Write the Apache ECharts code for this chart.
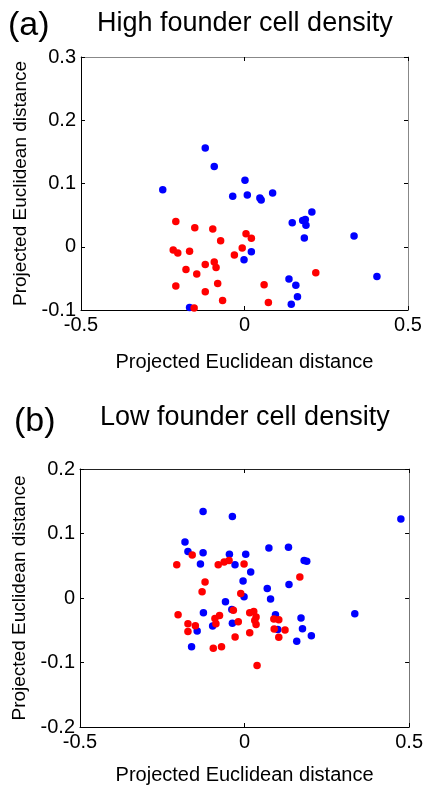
<!DOCTYPE html>
<html>
<head>
<meta charset="utf-8">
<script src="https://cdn.jsdelivr.net/npm/echarts@6/dist/echarts.min.js"></script>
<style>html,body{margin:0;padding:0;background:#fff;}#c{width:426px;height:789px;}</style>
</head>
<body>
<div id="c"></div>
<script>
const axisName = 'Projected Euclidean distance';
const titleA = 'High founder cell density';
const titleB = 'Low founder cell density';
const xRange = [-0.5, 0.5, 0.5];
const yRangeA = [-0.1, 0.3, 0.1];
const yRangeB = [-0.2, 0.2, 0.1];

const highBlue = [[-0.12,0.156],[-0.0925,0.127],[-0.25,0.09],[0.0015,0.105],[-0.036,0.080],[0.0086,0.082],[0.047,0.077],[0.051,0.074],[0.086,0.085],[0.206,0.055],[0.146,0.038],[0.178,0.0415],[0.186,0.043],[0.188,0.034],[0.183,0.014],[0.335,0.017],[0.021,-0.008],[-0.0015,-0.0206],[0.405,-0.047],[0.136,-0.051],[0.157,-0.061],[0.162,-0.079],[0.143,-0.091],[-0.168,-0.096]];
const highRed = [[-0.21,0.04],[-0.152,0.03],[-0.097,0.028],[-0.073,0.0095],[-0.218,-0.005],[-0.204,-0.01],[-0.168,-0.007],[-0.031,-0.013],[-0.179,-0.036],[-0.12,-0.028],[-0.0925,-0.024],[-0.087,-0.033],[-0.146,-0.043],[-0.21,-0.062],[-0.082,-0.058],[-0.12,-0.071],[-0.067,-0.085],[-0.154,-0.097],[-0.007,-0.002],[0.0046,0.0205],[0.021,0.0136],[0.218,-0.041],[0.06,-0.06],[0.073,-0.088]];
const lowBlue = [[-0.126,0.134],[-0.037,0.1265],[-0.181,0.087],[-0.172,0.072],[-0.126,0.070],[-0.134,0.0527],[-0.046,0.068],[-0.029,0.0516],[-0.058,-0.0057],[0.475,0.1225],[0.074,0.0775],[0.1335,0.0785],[0.0036,0.068],[0.0187,0.0403],[0.181,0.058],[0.189,0.057],[-0.0045,0.0264],[0.069,0.0149],[0.135,0.021],[-0.0015,0.002],[0.079,-0.0016],[-0.0387,-0.018],[-0.125,-0.023],[-0.097,-0.0434],[-0.144,-0.051],[-0.037,-0.039],[-0.161,-0.0755],[0.094,-0.026],[0.101,-0.049],[0.1716,-0.031],[0.176,-0.0476],[0.203,-0.0585],[0.1586,-0.067],[0.335,-0.0243]];
const lowRed = [[-0.159,0.0667],[-0.206,0.0516],[-0.080,0.0516],[-0.062,0.056],[-0.047,0.058],[-0.120,0.0248],[-0.129,0.0098],[-0.0015,0.0527],[0.168,0.0326],[-0.0115,0.0071],[-0.034,-0.019],[-0.202,-0.026],[-0.076,-0.027],[-0.090,-0.0316],[-0.087,-0.040],[-0.172,-0.040],[-0.1495,-0.043],[-0.172,-0.052],[-0.0287,-0.0605],[-0.095,-0.078],[-0.070,-0.0755],[-0.019,-0.037],[0.0157,-0.023],[0.028,-0.021],[0.035,-0.0295],[0.031,-0.0347],[0.035,-0.041],[0.0157,-0.054],[0.089,-0.0326],[0.104,-0.0336],[0.090,-0.048],[0.123,-0.0496],[0.104,-0.061],[0.038,-0.1045]];

const FONT = '"Liberation Sans", Arial, sans-serif';
const fmt = v => String(Math.round(v * 10) / 10);

function mainX(grid, gap) {
  return {
    gridIndex: grid, type: 'value', min: xRange[0], max: xRange[1], interval: xRange[2], position: 'bottom',
    axisLine: { show: true, onZero: false, lineStyle: { color: '#000', width: 1 } },
    axisTick: { show: true, inside: true, length: 4, lineStyle: { color: '#000' } },
    axisLabel: { fontSize: 20, color: '#000', fontFamily: FONT, margin: 5, formatter: fmt },
    splitLine: { show: false },
    name: axisName, nameLocation: 'middle', nameGap: gap,
    nameTextStyle: { fontSize: 20, color: '#000', fontFamily: FONT }
  };
}
function topX(grid, color) {
  return {
    gridIndex: grid, type: 'value', min: xRange[0], max: xRange[1], interval: xRange[2], position: 'top',
    axisLine: { show: true, onZero: false, lineStyle: { color: color, width: 1 } },
    axisTick: { show: true, inside: true, length: 4, lineStyle: { color: '#000' } },
    axisLabel: { show: false }, splitLine: { show: false }
  };
}
function mainY(grid, r) {
  return {
    gridIndex: grid, type: 'value', min: r[0], max: r[1], interval: r[2], position: 'left',
    axisLine: { show: true, onZero: false, lineStyle: { color: '#000', width: 1 } },
    axisTick: { show: true, inside: true, length: 4, lineStyle: { color: '#000' } },
    axisLabel: { fontSize: 20, color: '#000', fontFamily: FONT, margin: 5, formatter: fmt },
    splitLine: { show: false },
    name: axisName, nameLocation: 'middle', nameGap: 44,
    nameTextStyle: { fontSize: 19, color: '#000', fontFamily: FONT }
  };
}
function rightY(grid, r, color) {
  return {
    gridIndex: grid, type: 'value', min: r[0], max: r[1], interval: r[2], position: 'right',
    axisLine: { show: true, onZero: false, lineStyle: { color: color, width: 1 } },
    axisTick: { show: true, inside: true, length: 4, lineStyle: { color: '#000' } },
    axisLabel: { show: false }, splitLine: { show: false }
  };
}
function sc(xi, yi, data, color) {
  return { type: 'scatter', xAxisIndex: xi, yAxisIndex: yi, data: data, symbolSize: 7.5,
    itemStyle: { color: color, opacity: 1 }, silent: true };
}

const chart = echarts.init(document.getElementById('c'), null, { renderer: 'canvas' });
chart.setOption({
  animation: false,
  backgroundColor: '#fff',
  graphic: [
    { type: 'text', x: 8, y: 26, style: { text: '(a)', fontSize: 34, fontFamily: FONT, fill: '#000', verticalAlign: 'middle' } },
    { type: 'text', x: 97, y: 24, style: { text: titleA, fontSize: 27, fontFamily: FONT, fill: '#000', verticalAlign: 'middle' } },
    { type: 'text', x: 14, y: 422, style: { text: '(b)', fontSize: 34, fontFamily: FONT, fill: '#000', verticalAlign: 'middle' } },
    { type: 'text', x: 100, y: 418, style: { text: titleB, fontSize: 27, fontFamily: FONT, fill: '#000', verticalAlign: 'middle' } }
  ],
  grid: [
    { left: 81, right: 18, top: 57, height: 253 },
    { left: 80, right: 15, top: 469, height: 258 }
  ],
  xAxis: [mainX(0, 42), topX(0, '#888'), mainX(1, 38), topX(1, '#222')],
  yAxis: [mainY(0, yRangeA), rightY(0, yRangeA, '#888'), mainY(1, yRangeB), rightY(1, yRangeB, '#777')],
  series: [
    sc(0, 0, highBlue, '#0000ff'),
    sc(0, 0, highRed, '#ff0000'),
    sc(2, 2, lowBlue, '#0000ff'),
    sc(2, 2, lowRed, '#ff0000')
  ]
});
</script>
</body>
</html>
